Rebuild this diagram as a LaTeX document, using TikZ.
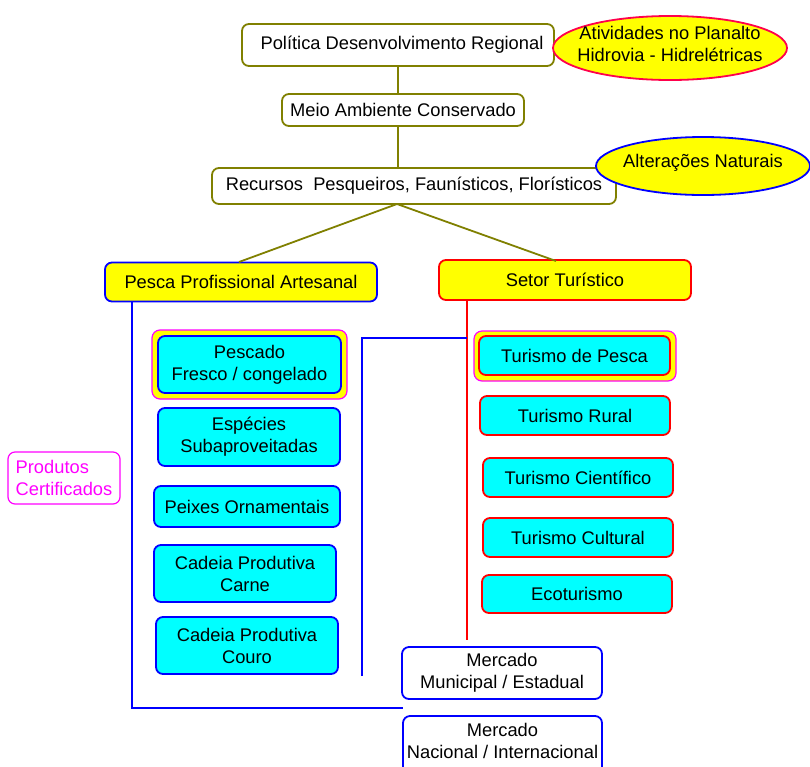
\documentclass[tikz,border=0pt]{standalone}
\usepackage{fontspec}
\setmainfont{Liberation Sans}
\usetikzlibrary{shapes.geometric}
\definecolor{olv}{RGB}{128,128,0}
\definecolor{yel}{RGB}{255,255,0}
\definecolor{cya}{RGB}{0,255,255}
\definecolor{blu}{RGB}{0,0,255}
\definecolor{rd}{RGB}{255,0,0}
\definecolor{mag}{RGB}{255,0,255}
\begin{document}
\begin{tikzpicture}[x=1pt,y=-1pt,
  font=\fontsize{18.3}{22}\selectfont,
  box/.style={draw, rounded corners=7pt, line width=1.8pt, align=center, inner sep=0pt},
  topbox/.style={box, draw=olv, fill=white},
  leftbox/.style={box, draw=blu, fill=cya},
  rightbox/.style={box, draw=rd, fill=cya},
  frame/.style={draw=mag, fill=yel, rounded corners=8pt, line width=1.2pt, inner sep=0pt},
  oval/.style={ellipse, fill=yel, line width=1.8pt, inner sep=0pt},
  label/.style={align=center, inner sep=0pt},
  olvline/.style={draw=olv, line width=1.8pt},
  blueline/.style={draw=blu, line width=1.8pt},
  redline/.style={draw=rd, line width=1.8pt},
]
\clip (0,0) rectangle (810,766);
\fill[white] (0,0) rectangle (810,766);

% top chain
\node[topbox, minimum width=312, minimum height=42] (pol) at (398,45) {};
\node[label] (poltext) at (402,45) {Política Desenvolvimento Regional};
\node[oval, draw=rd!70!mag, minimum width=234, minimum height=64] (ativ) at (670,48) {};
\node[label] (ativtext) at (670,44) {Atividades no Planalto\\Hidrovia - Hidrelétricas};
\node[topbox, minimum width=242, minimum height=32] (meio) at (403,110) {Meio Ambiente Conservado};
\node[topbox, minimum width=404, minimum height=36] (rec) at (414,186) {Recursos\ \ Pesqueiros, Faunísticos, Florísticos};
\node[oval, draw=blu, minimum width=214, minimum height=58] (alt) at (703,166) {};
\node[label] (alttext) at (703,163) {Alterações Naturais};

\coordinate (recb) at (397,204);
\coordinate (pesct) at (239,262);
\coordinate (setort) at (556,261);

\path[olvline] (pol.south) -- (pol.south |- meio.north);
\path[olvline] (pol.south |- meio.south) -- (pol.south |- rec.north);

% level 2
\node[box, draw=blu, fill=yel, minimum width=272, minimum height=39] (pesca) at (241,282) {Pesca Profissional Artesanal};
\node[box, draw=rd, fill=yel, minimum width=252, minimum height=40] (setor) at (565,280) {Setor Turístico};
\path[olvline] (recb) -- (pesct);
\path[olvline] (recb) -- (setort);

% connectors
\coordinate (pa) at (132,301);
\coordinate (pb) at (132,708);
\coordinate (pc) at (403,708);
\path[blueline] (pa) -- (pb) -- (pc);
\coordinate (sa) at (467,300);
\coordinate (sb) at (467,640);
\path[redline] (sa) -- (sb);
\coordinate (ba) at (362,676);
\coordinate (bb) at (362,338);
\coordinate (bc) at (467,338);
\path[blueline] (ba) -- (bb) -- (bc);

% left column
\node[frame, minimum width=195, minimum height=69] (pfr) at (249.5,364.5) {};
\node[leftbox, minimum width=183, minimum height=57] (pesc) at (249.5,364.5) {Pescado\\Fresco / congelado};
\node[leftbox, minimum width=182, minimum height=58] (esp) at (249,437) {Espécies\\Subaproveitadas};
\node[leftbox, minimum width=186, minimum height=41] (peix) at (247,506.5) {Peixes Ornamentais};
\node[leftbox, minimum width=182, minimum height=57] (carne) at (245,573.5) {Cadeia Produtiva\\Carne};
\node[leftbox, minimum width=182, minimum height=57] (couro) at (247,645.5) {Cadeia Produtiva\\Couro};

% right column
\node[frame, minimum width=202, minimum height=50] (tfr) at (575,356) {};
\node[rightbox, minimum width=191, minimum height=39] (tpesca) at (574.5,355.5) {Turismo de Pesca};
\node[rightbox, minimum width=190, minimum height=39] (trural) at (575,415.5) {Turismo Rural};
\node[rightbox, minimum width=190, minimum height=39] (tcient) at (578,477.5) {Turismo Científico};
\node[rightbox, minimum width=190, minimum height=39] (tcult) at (578,537.5) {Turismo Cultural};
\node[rightbox, minimum width=190, minimum height=38] (eco) at (577,594) {Ecoturismo};

% markets
\node[box, draw=blu, fill=white, minimum width=200, minimum height=52] (mmun) at (502,673) {Mercado\\Municipal / Estadual};
\node[box, draw=blu, fill=white, minimum width=199, minimum height=58] (mnac) at (502.5,745) {};
\node[label] (mnactext) at (502.5,741) {Mercado\\Nacional / Internacional};

% produtos certificados
\node[box, draw=mag, fill=white, text=mag, align=left, minimum width=112, minimum height=52, line width=1.2pt] (prod) at (64,478) {Produtos\\Certificados};
\end{tikzpicture}
\end{document}
